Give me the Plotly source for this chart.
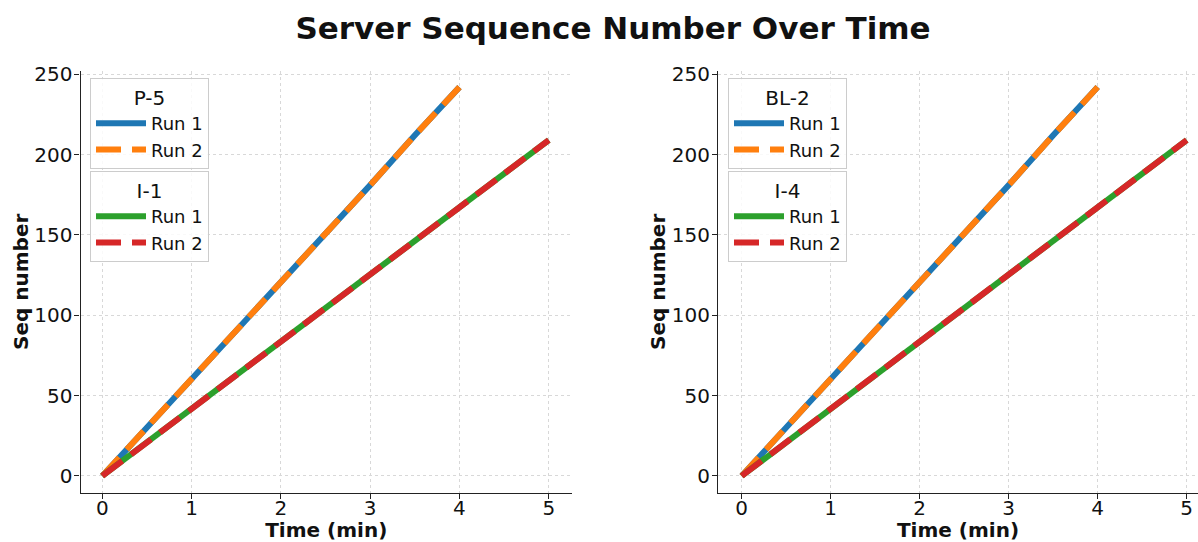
import plotly.graph_objects as go

# ---- data ----
time_fast = [0, 0.5, 1.0, 1.5, 2.0, 2.5, 3.0, 3.5, 4.0]
seq_fast_run1 = [0, 30, 60, 91, 121, 151, 181, 212, 242]
seq_fast_run2 = [0, 30, 60, 91, 121, 151, 181, 212, 242]

time_slow = [0, 0.5, 1.0, 1.5, 2.0, 2.5, 3.0, 3.5, 4.0, 4.5, 5.0]
seq_slow_run1 = [0, 21, 42, 63, 84, 105, 125, 146, 167, 188, 209]
seq_slow_run2 = [0, 21, 42, 63, 84, 105, 125, 146, 167, 188, 209]

left_groups = ["P-5", "I-1"]
right_groups = ["BL-2", "I-4"]
run_labels = ["Run 1", "Run 2"]
x_ticks = [0, 1, 2, 3, 4, 5]
y_ticks = [0, 50, 100, 150, 200, 250]

BLUE, ORANGE, GREEN, RED = "#1f77b4", "#ff7f0e", "#2ca02c", "#d62728"
FONT = "DejaVu Sans"
LW = 6
DASH = "25px,11px"
W, H = 1198, 542

fig = go.Figure()


def add_panel(xa, ya, leg_a, leg_b):
    fig.add_trace(go.Scatter(x=time_fast, y=seq_fast_run1, mode="lines", name=run_labels[0],
                             line=dict(color=BLUE, width=LW), xaxis=xa, yaxis=ya, legend=leg_a))
    fig.add_trace(go.Scatter(x=time_fast, y=seq_fast_run2, mode="lines", name=run_labels[1],
                             line=dict(color=ORANGE, width=LW, dash=DASH), xaxis=xa, yaxis=ya, legend=leg_a))
    fig.add_trace(go.Scatter(x=time_slow, y=seq_slow_run1, mode="lines", name=run_labels[0],
                             line=dict(color=GREEN, width=LW), xaxis=xa, yaxis=ya, legend=leg_b))
    fig.add_trace(go.Scatter(x=time_slow, y=seq_slow_run2, mode="lines", name=run_labels[1],
                             line=dict(color=RED, width=LW, dash=DASH), xaxis=xa, yaxis=ya, legend=leg_b))


add_panel("x", "y", "legend", "legend2")
add_panel("x2", "y2", "legend3", "legend4")

ydom = [(H - 493) / H, (H - 70.7) / H]

axis_common = dict(
    showline=True, linecolor="#222", linewidth=1.2, mirror=False, automargin=False,
    ticks="outside", ticklen=5, tickwidth=1.2, tickcolor="#222",
    showgrid=True, gridcolor="#d8d8d8", gridwidth=1, griddash="dot",
    zeroline=False, tickfont=dict(family=FONT, size=20, color="#111"),
)
xt = dict(text="Time (min)", font=dict(family=FONT, size=20, color="#111", weight="bold"), standoff=10)
yt = dict(text="Seq number", font=dict(family=FONT, size=20, color="#111", weight="bold"), standoff=0)

fig.update_layout(
    width=W, height=H,
    margin=dict(l=0, r=0, t=0, b=0, autoexpand=False),
    paper_bgcolor="white", plot_bgcolor="white",
    showlegend=True,
    title=dict(text="<b>Server Sequence Number Over Time</b>", x=613 / W, xref="container",
               xanchor="center", y=1 - 28 / H, yref="container", yanchor="middle",
               font=dict(family=FONT, size=31, color="#111")),
    xaxis=dict(domain=[80.5 / W, 572 / W], range=[-0.244, 5.26], tickvals=x_ticks,
               ticklabelstandoff=-8, title=xt, anchor="y", **axis_common),
    yaxis=dict(domain=ydom, range=[-10.6, 252.2], tickvals=y_ticks,
               ticklabelstandoff=-2, title=yt, anchor="x", **axis_common),
    xaxis2=dict(domain=[718 / W, 1.0], range=[-0.266, 5.127], tickvals=x_ticks,
                ticklabelstandoff=-8, title=xt, anchor="y2", **axis_common),
    yaxis2=dict(domain=ydom, range=[-10.6, 252.2], tickvals=y_ticks,
                ticklabelstandoff=-2, title=yt, anchor="x2", **axis_common),
)

legend_common = dict(
    bgcolor="rgba(255,255,255,0.85)", bordercolor="#cccccc", borderwidth=1,
    font=dict(family=FONT, size=18, color="#111"),
    xref="paper", yref="paper", xanchor="left", yanchor="top",
    itemwidth=50, tracegroupgap=0,
)


def leg(title, x_px, y_px):
    d = dict(legend_common)
    d.update(x=x_px / W, y=1 - y_px / H,
             title=dict(text=title, side="top center", font=dict(family=FONT, size=20, color="#111")))
    return d


fig.update_layout(
    legend=leg(left_groups[0], 90, 78),
    legend2=leg(left_groups[1], 90, 171),
    legend3=leg(right_groups[0], 728, 78),
    legend4=leg(right_groups[1], 728, 171),
)

fig.write_html("out.html", config={"displayModeBar": False},
               post_script="document.body.style.margin='0';document.body.style.overflow='hidden';")
